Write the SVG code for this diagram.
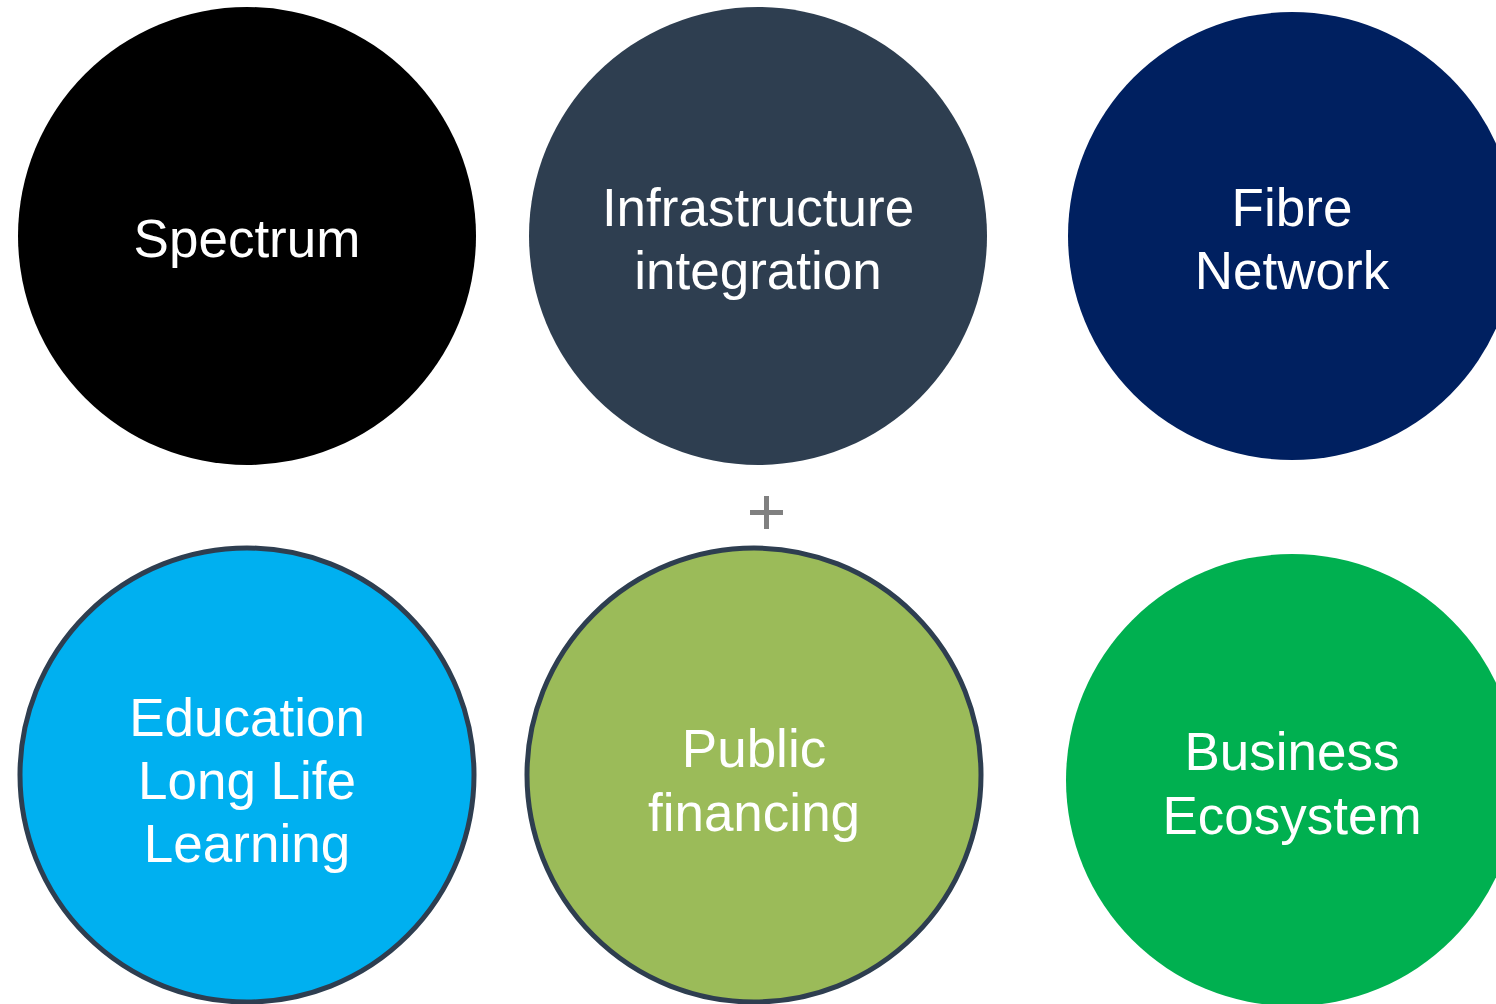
<svg xmlns="http://www.w3.org/2000/svg" width="1496" height="1004" viewBox="0 0 1496 1004">
<style>
.lbl{font-family:"Liberation Sans",Arial,sans-serif;font-size:53px;fill:#ffffff;text-anchor:middle}
.ring{stroke:#2E3E50;stroke-width:5}
</style>
<rect width="1496" height="1004" fill="#ffffff"/>
<g id="spectrum"><circle cx="247" cy="236" r="229" fill="#000000"/><text class="lbl" x="247" y="257">Spectrum</text></g>
<g id="infrastructure"><circle cx="758" cy="236" r="229" fill="#2E3E50"/><text class="lbl" x="758" y="226">Infrastructure</text><text class="lbl" x="758" y="289">integration</text></g>
<g id="fibre"><circle cx="1292" cy="236" r="224" fill="#002060"/><text class="lbl" x="1292" y="226">Fibre</text><text class="lbl" x="1292" y="289">Network</text></g>
<g id="plus"><rect x="750" y="510" width="33" height="5" fill="#808080"/><rect x="764" y="496" width="5" height="33" fill="#808080"/></g>
<g id="education"><circle class="ring" cx="247" cy="775" r="227" fill="#00B0F0"/><text class="lbl" x="247" y="736">Education</text><text class="lbl" x="247" y="799">Long Life</text><text class="lbl" x="247" y="862">Learning</text></g>
<g id="public"><circle class="ring" cx="754" cy="775" r="227" fill="#9BBB59"/><text class="lbl" x="754" y="767">Public</text><text class="lbl" x="754" y="831">financing</text></g>
<g id="business"><circle cx="1292" cy="780" r="226" fill="#00B050"/><text class="lbl" x="1292" y="770">Business</text><text class="lbl" x="1292" y="834">Ecosystem</text></g>
<g id="connectors"></g>
</svg>
